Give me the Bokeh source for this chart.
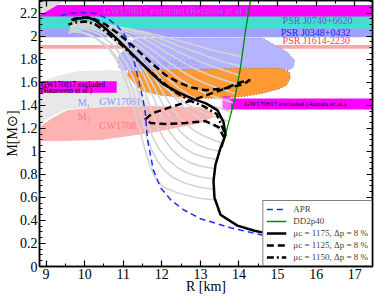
from bokeh.plotting import figure
from bokeh.models import (Range1d, LinearAxis, SingleIntervalTicker, CustomJSTickFormatter,
                          Legend, LegendItem)
from bokeh.core.properties import value
from bokeh.embed import file_html
from bokeh.resources import INLINE

FONT = "Liberation Serif"

X_RANGE = (8.83, 17.46)
Y_RANGE = (0.0, 2.31)

# ---- horizontal mass bands (drawing order) ----
band_labels = ["PSR J0740+6620", "PSR J0348+0432", "PSR J1614-2230",
               "GW170817 excluded (Rezzolla et al.)"]
band_low = [2.04, 1.99, 1.892, 2.17]
band_high = [2.24, 2.067, 1.924, 2.27]
band_colors = ["#40e0d0", "#a0a0ff", "#ffa6a6", "#ff00ff"]
band_label_R = [15.13, 15.08, 15.13, 10.49]
band_label_M = [2.132, 2.033, 1.960, 2.223]
band_label_colors = ["#6a5acd", "#1f1fff", "#ff3c3c", "#9a66dd"]
band_label_sizes = ["10px", "10px", "10px", "9.5px"]

# ---- GW170817 excluded (Annala et al.) band ----
annala_R = [13.78, 17.46]
annala_M = [1.364, 1.459]
annala_fuzz_R = [13.57, 13.78]
annala_fuzz_M = [1.36, 1.48]

# ---- GW170817 excluded (Bauswein et al.) box ----
bauswein_R = [8.83, 10.83]
bauswein_M = [1.508, 1.609]

# ---- posterior regions ----
gray_R = [8.83, 8.99, 9.25, 9.82, 10.67, 11.14, 11.11, 11.27, 11.45, 11.66, 11.71, 10.41, 9.56, 9.12, 8.83]
gray_M = [1.514, 1.618, 1.652, 1.696, 1.704, 1.696, 1.635, 1.566, 1.522, 1.445, 1.384, 1.384, 1.367, 1.300, 1.228]

pink_R = [8.83, 9.12, 9.56, 10.41, 11.71, 13.00, 13.31, 13.34, 13.00, 11.71, 10.41, 9.38, 8.83]
pink_M = [1.211, 1.280, 1.358, 1.384, 1.393, 1.384, 1.341, 1.298, 1.246, 1.159, 1.099, 1.090, 1.090]

lav_R = [10.88, 10.85, 10.96, 11.09, 11.19, 11.32, 12.23, 13.78, 14.61, 14.95, 15.26, 15.44, 15.41, 15.28, 14.82, 13.00, 11.71, 10.98]
lav_M = [1.730, 1.808, 1.860, 1.894, 1.946, 1.980, 1.985, 1.985, 1.985, 1.920, 1.860, 1.791, 1.730, 1.704, 1.704, 1.704, 1.704, 1.704]

orange_R = [11.14, 11.71, 13.00, 14.30, 15.08, 15.31, 15.33, 15.23, 15.02, 14.61, 14.17, 13.52, 12.74, 11.97, 11.53, 11.34, 11.22, 11.11]
orange_M = [1.696, 1.704, 1.713, 1.722, 1.722, 1.687, 1.635, 1.574, 1.540, 1.505, 1.479, 1.462, 1.462, 1.488, 1.522, 1.566, 1.618, 1.661]

corner_R = [8.83, 9.50, 8.83]
corner_M = [2.31, 2.31, 2.18]

# ---- region labels ----
region_text = ["M\u2081", "GW17081", "M\u2082", "GW17081", "M\u2081", "GW190425"]
region_R = [9.82, 10.38, 9.82, 10.38, 11.37, 11.76]
region_M = [1.420, 1.436, 1.306, 1.228, 1.765, 1.765]
region_colors = ["#8f8fff", "#8f8fff", "#ff7a7a", "#ff7a7a", "#9494e8", "#9a9af0"]

# ---- hybrid-star family (light gray) ----
family_R = [
    [13.37, 13.00, 12.74, 12.40, 12.04, 11.85, 11.72, 11.62, 11.52, 11.40, 11.27, 11.12, 10.92, 10.65, 10.30, 9.95, 9.68, 9.58],
    [13.35, 12.95, 12.62, 12.30, 12.05, 11.88, 11.74, 11.62, 11.50, 11.36, 11.18, 10.92, 10.58, 10.18, 9.82, 9.62],
    [13.34, 12.98, 12.68, 12.40, 12.15, 11.95, 11.78, 11.64, 11.50, 11.33, 11.08, 10.75, 10.38, 10.00, 9.72, 9.60],
    [13.36, 13.02, 12.74, 12.48, 12.25, 12.05, 11.88, 11.72, 11.55, 11.32, 11.02, 10.65, 10.25, 9.90, 9.65],
    [13.42, 13.10, 12.82, 12.58, 12.36, 12.16, 11.98, 11.78, 11.55, 11.25, 10.90, 10.50, 10.10, 9.78, 9.62],
    [13.50, 13.20, 12.92, 12.68, 12.45, 12.24, 12.02, 11.78, 11.50, 11.15, 10.75, 10.35, 9.98, 9.70],
    [13.57, 13.32, 13.05, 12.80, 12.55, 12.30, 12.05, 11.75, 11.40, 11.00, 10.60, 10.20, 9.85, 9.65],
    [13.63, 13.45, 13.20, 12.92, 12.65, 12.38, 12.10, 11.78, 11.40, 11.00, 10.55, 10.15, 9.80, 9.65],
    [13.74, 13.40, 13.05, 12.70, 12.35, 12.00, 11.65, 11.30, 10.90, 10.50, 10.10, 9.80, 9.62],
    [13.80, 13.45, 13.10, 12.75, 12.40, 12.05, 11.70, 11.30, 10.90, 10.50, 10.10, 9.78, 9.62],
    [13.86, 13.50, 13.15, 12.80, 12.45, 12.10, 11.72, 11.30, 10.90, 10.50, 10.10, 9.80, 9.65],
    [13.92, 13.55, 13.20, 12.85, 12.50, 12.12, 11.72, 11.30, 10.88, 10.45, 10.05, 9.75],
    [13.97, 13.60, 13.25, 12.90, 12.52, 12.12, 11.70, 11.28, 10.85, 10.40, 10.00, 9.72],
    [14.01, 13.65, 13.30, 12.92, 12.52, 12.10, 11.65, 11.20, 10.75, 10.30, 9.90, 9.68],
    [14.05, 13.68, 13.30, 12.90, 12.48, 12.05, 11.60, 11.15, 10.70, 10.25, 9.85, 9.66],
    [14.08, 13.70, 13.30, 12.90, 12.45, 12.00, 11.50, 11.00, 10.50, 10.00, 9.70],
]
family_M = [
    [0.58, 0.59, 0.61, 0.64, 0.69, 0.76, 0.85, 0.95, 1.07, 1.22, 1.38, 1.56, 1.74, 1.88, 1.98, 2.03, 2.04, 2.02],
    [0.67, 0.69, 0.72, 0.77, 0.84, 0.92, 1.01, 1.12, 1.26, 1.42, 1.60, 1.78, 1.92, 2.01, 2.05, 2.04],
    [0.76, 0.78, 0.81, 0.86, 0.93, 1.01, 1.11, 1.24, 1.40, 1.58, 1.77, 1.92, 2.02, 2.06, 2.06, 2.05],
    [0.85, 0.87, 0.90, 0.95, 1.02, 1.11, 1.22, 1.37, 1.54, 1.72, 1.88, 2.00, 2.06, 2.08, 2.07],
    [0.93, 0.95, 0.98, 1.03, 1.10, 1.19, 1.31, 1.47, 1.65, 1.82, 1.96, 2.05, 2.09, 2.10, 2.09],
    [1.00, 1.02, 1.06, 1.11, 1.18, 1.28, 1.41, 1.57, 1.74, 1.90, 2.01, 2.07, 2.10, 2.10],
    [1.07, 1.10, 1.14, 1.19, 1.26, 1.36, 1.50, 1.67, 1.83, 1.96, 2.05, 2.10, 2.11, 2.10],
    [1.13, 1.20, 1.25, 1.30, 1.36, 1.45, 1.57, 1.72, 1.87, 1.99, 2.07, 2.11, 2.12, 2.11],
    [1.26, 1.30, 1.34, 1.40, 1.48, 1.58, 1.70, 1.83, 1.95, 2.03, 2.07, 2.08, 2.07],
    [1.34, 1.38, 1.42, 1.48, 1.56, 1.66, 1.77, 1.89, 1.99, 2.06, 2.09, 2.09, 2.08],
    [1.42, 1.46, 1.50, 1.56, 1.63, 1.72, 1.83, 1.94, 2.02, 2.07, 2.10, 2.10, 2.09],
    [1.50, 1.54, 1.58, 1.63, 1.70, 1.79, 1.89, 1.98, 2.05, 2.09, 2.11, 2.11],
    [1.58, 1.62, 1.66, 1.71, 1.78, 1.86, 1.95, 2.02, 2.07, 2.10, 2.12, 2.11],
    [1.66, 1.70, 1.74, 1.79, 1.85, 1.92, 1.99, 2.05, 2.09, 2.11, 2.12, 2.11],
    [1.74, 1.77, 1.81, 1.86, 1.91, 1.97, 2.02, 2.06, 2.09, 2.11, 2.11, 2.10],
    [1.82, 1.85, 1.88, 1.92, 1.96, 2.00, 2.04, 2.07, 2.09, 2.10, 2.09],
]

# ---- mass-radius curves ----
apr_R = [9.38, 9.64, 9.97, 10.28, 10.59, 10.83, 11.01, 11.14, 11.24, 11.32, 11.40, 11.47, 11.53, 11.58, 11.60,
         11.63, 11.68, 11.78, 11.97, 12.23, 12.56, 13.00, 13.80, 14.66, 15.59]
apr_M = [2.180, 2.197, 2.206, 2.197, 2.154, 2.093, 2.024, 1.938, 1.834, 1.730, 1.618, 1.514, 1.419, 1.315, 1.211,
         1.099, 1.012, 0.839, 0.683, 0.580, 0.493, 0.415, 0.335, 0.268, 0.207]

dd2_R = [13.52, 13.57, 13.70, 13.88, 14.04, 14.17, 14.30]
dd2_M = [1.03, 1.04, 1.21, 1.44, 1.73, 2.05, 2.31]

mu1175_R = [14.90, 14.635, 14.40, 13.96, 13.52, 13.365, 13.34, 13.39, 13.52, 13.65, 13.60, 13.44, 13.13, 12.82,
            12.41, 12.04, 11.71, 11.45, 11.19, 10.88, 10.54, 10.28, 10.08, 9.84, 9.69]
mu1175_M = [0.275, 0.294, 0.311, 0.355, 0.450, 0.597, 0.744, 0.882, 1.029, 1.142, 1.254, 1.358, 1.419, 1.453,
            1.514, 1.583, 1.687, 1.773, 1.860, 1.964, 2.067, 2.137, 2.163, 2.154, 2.137]

mu1125_R = [13.62, 13.47, 13.13, 12.61, 12.10, 11.71, 11.58, 11.76, 12.23, 12.87, 13.52, 14.04, 14.27, 14.12,
            13.65, 13.13, 12.74, 12.43, 12.10, 11.71, 11.32, 10.93, 10.54, 10.28, 10.02, 9.76, 9.58]
mu1125_M = [1.116, 1.211, 1.263, 1.246, 1.237, 1.246, 1.280, 1.332, 1.384, 1.453, 1.531, 1.600, 1.618, 1.583,
            1.548, 1.531, 1.557, 1.600, 1.661, 1.773, 1.894, 2.007, 2.102, 2.145, 2.163, 2.154, 2.128]

mu1150_R = [13.62, 13.42, 13.08, 12.69, 12.28, 11.89, 11.53, 11.19, 10.88, 10.54, 10.28, 10.02, 9.76, 9.58]
mu1150_M = [1.168, 1.324, 1.393, 1.445, 1.531, 1.635, 1.747, 1.851, 1.946, 2.042, 2.102, 2.128, 2.119, 2.102]

legend_labels = ["APR", "DD2p40", "\u03bcc = 1175, \u0394p = 8 %",
                 "\u03bcc = 1125, \u0394p = 8 %", "\u03bcc = 1150, \u0394p = 8 %"]

# ---------------- figure ----------------
p = figure(width=374, height=296, output_backend="svg", toolbar_location=None,
           x_range=Range1d(*X_RANGE), y_range=Range1d(*Y_RANGE),
           min_border_left=39, min_border_right=2, min_border_top=0, min_border_bottom=29,
           background_fill_color="white", border_fill_color="white")
p.grid.visible = False
p.outline_line_color = "black"
p.outline_line_width = 1.5

num_fmt = CustomJSTickFormatter(code="return String(Math.round(tick * 100) / 100);")
blank_fmt = CustomJSTickFormatter(code="return '';")


def style_axis(ax, labels=True):
    ax.axis_line_color = "black"
    ax.axis_line_width = 1.5
    ax.major_tick_in = 6
    ax.major_tick_out = 0
    ax.minor_tick_in = 3
    ax.minor_tick_out = 0
    ax.major_tick_line_color = "black"
    ax.major_tick_line_width = 1.2
    ax.minor_tick_line_color = "black"
    ax.minor_tick_line_width = 1
    ax.major_label_text_font = FONT
    ax.major_label_text_color = "black"
    ax.major_label_text_font_size = "14px"
    ax.axis_label_text_font = FONT
    ax.axis_label_text_font_size = "14px"
    ax.axis_label_text_font_style = "normal"
    ax.axis_label_text_color = "black"
    if labels:
        ax.formatter = num_fmt
        ax.major_label_standoff = 2
        ax.axis_label_standoff = -3
    else:
        ax.formatter = blank_fmt
        ax.major_label_standoff = 0


xb = p.xaxis[0]
xb.ticker = SingleIntervalTicker(interval=1, num_minor_ticks=2)
style_axis(xb)
xb.axis_label = "R [km]"
yl = p.yaxis[0]
yl.ticker = SingleIntervalTicker(interval=0.2, num_minor_ticks=4)
style_axis(yl)
yl.axis_label = "M[M\u2299]"
xt = LinearAxis(ticker=SingleIntervalTicker(interval=1, num_minor_ticks=2))
style_axis(xt, labels=False)
p.add_layout(xt, "above")
yr = LinearAxis(ticker=SingleIntervalTicker(interval=0.2, num_minor_ticks=4))
style_axis(yr, labels=False)
p.add_layout(yr, "right")

# bands
for lo, hi, c in zip(band_low, band_high, band_colors):
    p.quad(left=[X_RANGE[0]], right=[X_RANGE[1]], bottom=[lo], top=[hi],
           fill_color=c, line_color=None)
p.patch(corner_R, corner_M, fill_color="#dcdcdc", line_color=None)

# posterior regions
p.patch(gray_R, gray_M, fill_color="#e8e8e8", line_color=None)
p.patch(pink_R, pink_M, fill_color="#ffb2b2", line_color=None)
p.patch(lav_R, lav_M, fill_color="#b4b4ff", line_color="#8a8ad0", line_dash="1 2", line_width=1)
p.patch(orange_R, orange_M, fill_color="#ff9a33", line_color="#b86a20", line_dash="1 2", line_width=1)

# excluded boxes
p.quad(left=[bauswein_R[0]], right=[bauswein_R[1]], bottom=[bauswein_M[0]], top=[bauswein_M[1]],
       fill_color="#ff00ff", line_color=None)
p.quad(left=[annala_R[0]], right=[annala_R[1]], bottom=[annala_M[0]], top=[annala_M[1]],
       fill_color="#ff00ff", line_color=None)
p.quad(left=[annala_fuzz_R[0]], right=[annala_fuzz_R[1]], bottom=[annala_fuzz_M[0]], top=[annala_fuzz_M[1]],
       fill_color="#ff00ff", fill_alpha=0.6, line_color=None)

# region labels
for s, x, y, c in zip(region_text, region_R, region_M, region_colors):
    p.text(x=[x], y=[y], text=[s], text_color=c, text_font=value(FONT), text_font_size="10px",
           text_align="left", text_baseline="middle")

# gray hybrid family
p.multi_line(family_R, family_M, line_color="#d4d4d4", line_width=1.6, line_join="round")

# main curves
r_apr = p.line(apr_R, apr_M, line_color="#1a2cff", line_width=1.5, line_dash="6 4")
r_dd2 = p.line(dd2_R, dd2_M, line_color="#008a00", line_width=1.3)
r_1175 = p.line(mu1175_R, mu1175_M, line_color="black", line_width=2.5, line_join="round")
r_1125 = p.line(mu1125_R, mu1125_M, line_color="black", line_width=2.5, line_dash="7 4", line_join="round")
r_1150 = p.line(mu1150_R, mu1150_M, line_color="black", line_width=2.5, line_dash="7 3 2 3", line_join="round")

# band labels
for s, x, y, c, fs in zip(band_labels, band_label_R, band_label_M, band_label_colors, band_label_sizes):
    p.text(x=[x], y=[y], text=[s], text_color=c, text_font=value(FONT), text_font_size=fs,
           text_align="left", text_baseline="middle")

# excluded-region captions
p.text(x=[14.14], y=[1.415], text=["GW170817 excluded (Annala et al.)"], text_color="black",
       text_font=value(FONT), text_font_size="7px", text_align="left", text_baseline="middle")
p.text(x=[8.87, 8.87], y=[1.583, 1.531], text=["GW170817 excluded", "(Bauswein et al.)"],
       text_color="black", text_font=value(FONT), text_font_size="7.5px",
       text_align="left", text_baseline="middle")

legend = Legend(items=[LegendItem(label=legend_labels[0], renderers=[r_apr]),
                       LegendItem(label=legend_labels[1], renderers=[r_dd2]),
                       LegendItem(label=legend_labels[2], renderers=[r_1175]),
                       LegendItem(label=legend_labels[3], renderers=[r_1125]),
                       LegendItem(label=legend_labels[4], renderers=[r_1150])],
                location="bottom_right", margin=0, padding=3, spacing=2,
                glyph_width=20, glyph_height=10, label_height=10, label_standoff=7,
                label_text_font=FONT, label_text_font_size="9px",
                border_line_color="black", border_line_width=1,
                background_fill_color="white", background_fill_alpha=1)
p.add_layout(legend)

open("out.html", "w").write(file_html(p, INLINE))
